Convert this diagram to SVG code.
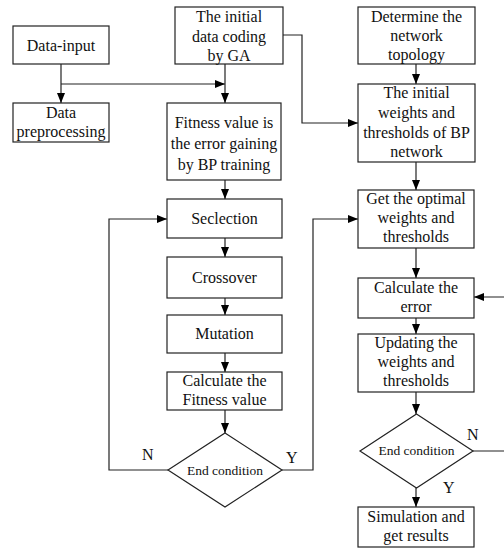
<svg xmlns="http://www.w3.org/2000/svg" width="504" height="548" viewBox="0 0 504 548">
<defs>
<marker id="ah" viewBox="0 0 10 8" refX="10" refY="4" markerWidth="10" markerHeight="8" markerUnits="userSpaceOnUse" orient="auto">
<path d="M0,0 L10,4 L0,8 Z" fill="#000"/>
</marker>
<style>
.box{fill:#fff;stroke:#222;stroke-width:1.2}
.t{font-family:"Liberation Serif","Times New Roman",serif;font-size:16px;fill:#111;text-anchor:middle}
.s{font-size:13.5px}
.c{fill:none;stroke:#222;stroke-width:1.2}
.a{marker-end:url(#ah)}
.l{font-family:"Liberation Serif","Times New Roman",serif;font-size:16px;fill:#111}
</style>
</defs>
<rect width="504" height="548" fill="#fff"/>
<g id="connectors">
<path class="c a" d="M61,64 V103"/>
<path class="c a" d="M61,84 H225"/>
<path class="c a" d="M225,64 V103"/>
<path class="c a" d="M225,180 V199"/>
<path class="c a" d="M225,238 V257"/>
<path class="c a" d="M225,298 V315"/>
<path class="c a" d="M225,353 V372"/>
<path class="c a" d="M225,410 V433"/>
<path class="c a" d="M168,470 H109 V219 H167"/>
<path class="c a" d="M282,470 H313 V219 H358"/>
<path class="c a" d="M283,35 H302 V123 H358"/>
<path class="c a" d="M416,64 V84"/>
<path class="c a" d="M416,162 V190"/>
<path class="c a" d="M416,248 V278"/>
<path class="c a" d="M416,318 V334"/>
<path class="c a" d="M416,392 V414"/>
<path class="c a" d="M416,488 V507"/>
<path class="c a" d="M473,451 H507 V297 H474"/>
<text class="l" x="142" y="460">N</text>
<text class="l" x="286" y="463">Y</text>
<text class="l" x="467" y="440">N</text>
<text class="l" x="443" y="493">Y</text>
</g>
<g id="data-input"><rect class="box" x="13" y="26" width="96" height="38"/><text class="t" x="61" y="51">Data-input</text></g>
<g id="data-preprocessing"><rect class="box" x="13" y="103" width="96" height="39"/><text class="t" x="61" y="118">Data</text><text class="t" x="61" y="137">preprocessing</text></g>
<g id="ga-coding"><rect class="box" x="175" y="7" width="108" height="57"/><text class="t" x="229" y="22">The initial</text><text class="t" x="229" y="42">data coding</text><text class="t" x="229" y="61">by GA</text></g>
<g id="fitness"><rect class="box" x="167" y="103" width="114" height="77"/><text class="t" x="224" y="128">Fitness value is</text><text class="t" x="224" y="149">the error gaining</text><text class="t" x="224" y="170">by BP training</text></g>
<g id="selection"><rect class="box" x="167" y="199" width="115" height="39"/><text class="t" x="224.5" y="224">Seclection</text></g>
<g id="crossover"><rect class="box" x="167" y="257" width="115" height="41"/><text class="t" x="224.5" y="283">Crossover</text></g>
<g id="mutation"><rect class="box" x="167" y="315" width="115" height="38"/><text class="t" x="224.5" y="339">Mutation</text></g>
<g id="calc-fitness"><rect class="box" x="167" y="372" width="115" height="38"/><text class="t" x="224.5" y="386">Calculate the</text><text class="t" x="224.5" y="405">Fitness value</text></g>
<g id="end-ga"><polygon class="box" points="225,433 282,470 225,507 168,470"/><text class="t s" x="225" y="475">End condition</text></g>
<g id="topology"><rect class="box" x="358" y="7" width="117" height="57"/><text class="t" x="416.5" y="22">Determine the</text><text class="t" x="416.5" y="41">network</text><text class="t" x="416.5" y="60">topology</text></g>
<g id="initial-weights"><rect class="box" x="358" y="84" width="117" height="78"/><text class="t" x="416.5" y="98">The initial</text><text class="t" x="416.5" y="118">weights and</text><text class="t" x="416.5" y="138">thresholds of BP</text><text class="t" x="416.5" y="157">network</text></g>
<g id="optimal"><rect class="box" x="358" y="190" width="116" height="58"/><text class="t" x="416" y="204">Get the optimal</text><text class="t" x="416" y="223">weights and</text><text class="t" x="416" y="242">thresholds</text></g>
<g id="calc-error"><rect class="box" x="358" y="278" width="116" height="40"/><text class="t" x="416" y="293">Calculate the</text><text class="t" x="416" y="312">error</text></g>
<g id="updating"><rect class="box" x="358" y="334" width="116" height="58"/><text class="t" x="416" y="348">Updating the</text><text class="t" x="416" y="367">weights and</text><text class="t" x="416" y="386">thresholds</text></g>
<g id="end-bp"><polygon class="box" points="416.5,414 473,451 416.5,488 360,451"/><text class="t s" x="416.5" y="455">End condition</text></g>
<g id="simulation"><rect class="box" x="358" y="507" width="116" height="40"/><text class="t" x="416" y="522">Simulation and</text><text class="t" x="416" y="541">get results</text></g>
</svg>
